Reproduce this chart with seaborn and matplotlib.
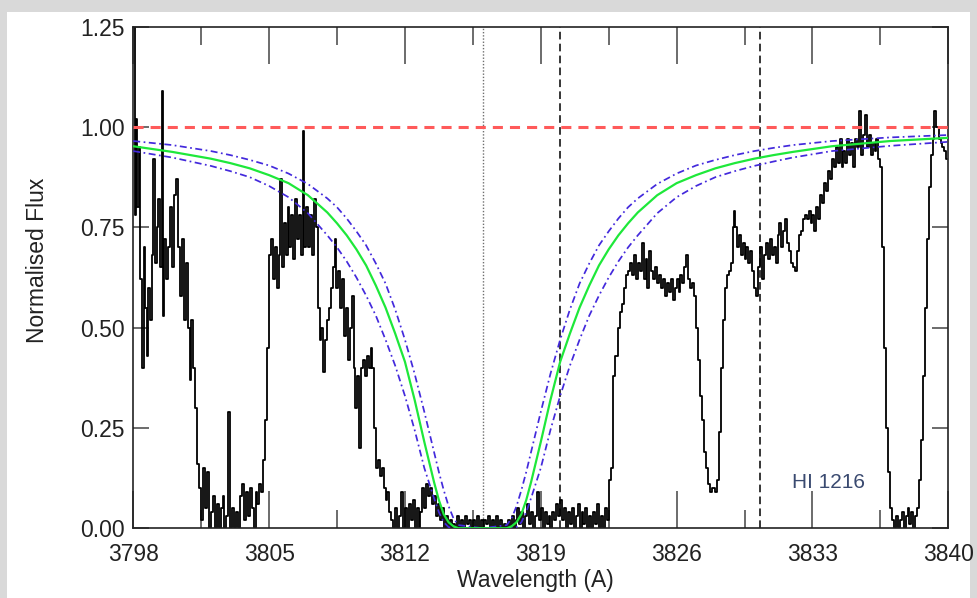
import numpy as np
import pandas as pd
import matplotlib
matplotlib.use('Agg')
import matplotlib.pyplot as plt
from matplotlib.patches import Rectangle
import seaborn as sns

spec_lam = [
    3798.05, 3798.12, 3798.18, 3798.25, 3798.32, 3798.40, 3798.50, 3798.58, 3798.66, 3798.75,
    3798.82, 3798.90, 3799.00, 3799.08, 3799.15, 3799.25, 3799.35, 3799.43, 3799.50, 3799.56,
    3799.65, 3799.75, 3799.85, 3799.95, 3800.05, 3800.15, 3800.25, 3800.35, 3800.45, 3800.55,
    3800.65, 3800.75, 3800.85, 3800.95, 3801.05, 3801.15, 3801.25, 3801.35, 3801.45, 3801.55,
    3801.65, 3801.75, 3801.85, 3801.95, 3802.05, 3802.15, 3802.25, 3802.35, 3802.45, 3802.55,
    3802.65, 3802.75, 3802.85, 3802.95, 3803.05, 3803.15, 3803.25, 3803.35, 3803.45, 3803.55,
    3803.65, 3803.75, 3803.85, 3803.95, 3804.05, 3804.15, 3804.25, 3804.35, 3804.45, 3804.55,
    3804.65, 3804.75, 3804.85, 3804.95,
    3805.05, 3805.15, 3805.25, 3805.35, 3805.45, 3805.55, 3805.62, 3805.70, 3805.80, 3805.90,
    3806.00, 3806.10, 3806.20, 3806.30, 3806.40, 3806.50, 3806.60, 3806.70, 3806.78, 3806.85,
    3806.95, 3807.05, 3807.15, 3807.25, 3807.35, 3807.45, 3807.55, 3807.65, 3807.75, 3807.85,
    3807.95, 3808.05, 3808.15, 3808.25, 3808.35, 3808.42, 3808.50, 3808.60, 3808.70, 3808.80,
    3808.90, 3809.00, 3809.10, 3809.20, 3809.30, 3809.40, 3809.50, 3809.60, 3809.70, 3809.80,
    3809.90, 3810.00, 3810.10, 3810.20, 3810.28, 3810.35, 3810.45, 3810.55, 3810.65, 3810.75,
    3810.85, 3810.95, 3811.05, 3811.15, 3811.25, 3811.35,
    3811.45, 3811.55, 3811.65, 3811.75, 3811.85, 3811.95, 3812.05, 3812.15, 3812.25, 3812.35,
    3812.45, 3812.55, 3812.65, 3812.75, 3812.85, 3812.95, 3813.05, 3813.15, 3813.25, 3813.35,
    3813.45, 3813.55, 3813.65, 3813.75, 3813.85, 3813.95, 3814.05, 3814.15, 3814.25, 3814.35,
    3814.45, 3814.55, 3814.65, 3814.75, 3814.85, 3814.95, 3815.05, 3815.15, 3815.25, 3815.35,
    3815.45, 3815.55, 3815.65, 3815.75, 3815.85, 3815.95, 3816.05, 3816.15, 3816.25, 3816.35,
    3816.45, 3816.55, 3816.65, 3816.75, 3816.85, 3816.95, 3817.05, 3817.15, 3817.25, 3817.35,
    3817.45, 3817.55, 3817.65, 3817.75, 3817.85, 3817.95, 3818.05, 3818.15, 3818.25, 3818.35,
    3818.45, 3818.55,
    3818.65, 3818.75, 3818.85, 3818.95, 3819.05, 3819.15, 3819.25, 3819.35, 3819.45, 3819.55,
    3819.65, 3819.75, 3819.85, 3819.95, 3820.05, 3820.15, 3820.25, 3820.35, 3820.45, 3820.55,
    3820.65, 3820.75, 3820.85, 3820.95, 3821.05, 3821.15, 3821.25, 3821.35, 3821.45, 3821.55,
    3821.65, 3821.75, 3821.85, 3821.95, 3822.05, 3822.15, 3822.25, 3822.35, 3822.45, 3822.55,
    3822.65, 3822.75, 3822.85, 3822.95, 3823.05, 3823.15, 3823.25, 3823.35, 3823.45, 3823.55,
    3823.65, 3823.75, 3823.85, 3823.95, 3824.05, 3824.15, 3824.25, 3824.35, 3824.45, 3824.55,
    3824.65, 3824.75, 3824.85, 3824.95, 3825.05, 3825.15, 3825.25, 3825.35, 3825.45, 3825.55,
    3825.65, 3825.75, 3825.85, 3825.95, 3826.05, 3826.15, 3826.25, 3826.35, 3826.45, 3826.55,
    3826.65, 3826.75, 3826.85, 3826.95, 3827.05, 3827.15, 3827.25, 3827.35, 3827.45, 3827.55,
    3827.65, 3827.75, 3827.85, 3827.95, 3828.05, 3828.15, 3828.25, 3828.35, 3828.45, 3828.55,
    3828.65, 3828.75, 3828.85, 3828.95, 3829.00, 3829.05, 3829.15, 3829.25, 3829.35, 3829.45,
    3829.55, 3829.65, 3829.75, 3829.85, 3829.95, 3830.05, 3830.15, 3830.25, 3830.35, 3830.45,
    3830.55, 3830.65, 3830.75, 3830.85, 3830.95, 3831.05, 3831.15, 3831.25, 3831.35, 3831.45,
    3831.55, 3831.65, 3831.75, 3831.85, 3831.95, 3832.05, 3832.15, 3832.25, 3832.35, 3832.45,
    3832.55, 3832.65, 3832.75, 3832.85,
    3832.95, 3833.05, 3833.15, 3833.25, 3833.35, 3833.45, 3833.55, 3833.65, 3833.75, 3833.85,
    3833.95, 3834.05, 3834.15, 3834.25, 3834.35, 3834.45, 3834.55, 3834.65, 3834.75, 3834.85,
    3834.95, 3835.05, 3835.15, 3835.25, 3835.35, 3835.45, 3835.55, 3835.65, 3835.75, 3835.85,
    3835.95, 3836.05, 3836.15, 3836.25, 3836.35, 3836.45, 3836.55, 3836.65, 3836.75, 3836.85,
    3836.95, 3837.05, 3837.15, 3837.25, 3837.35, 3837.45, 3837.55, 3837.65, 3837.75, 3837.85,
    3837.95, 3838.05, 3838.15, 3838.25, 3838.35, 3838.45, 3838.55, 3838.65, 3838.75, 3838.85,
    3838.95, 3839.05, 3839.15, 3839.25, 3839.32, 3839.45, 3839.55, 3839.65, 3839.75, 3839.85,
    3839.95,
]
spec_flux = [
    1.35, 0.78, 1.02, 0.80, 0.95, 0.62, 0.40, 0.70, 0.55, 0.43,
    0.60, 0.52, 0.68, 0.92, 0.66, 0.75, 0.82, 0.65, 1.09, 0.53,
    0.72, 0.62, 0.70, 0.80, 0.65, 0.83, 0.87, 0.70, 0.58, 0.72,
    0.52, 0.66, 0.50, 0.37, 0.52, 0.40, 0.30, 0.16, 0.10, 0.02,
    0.15, 0.05, 0.14, 0.00, 0.04, 0.08, 0.00, 0.06, 0.00, 0.05,
    0.08, 0.00, 0.03, 0.29, 0.00, 0.05, 0.00, 0.04, 0.00, 0.08,
    0.11, 0.02, 0.09, 0.03, 0.10, 0.05, 0.00, 0.09, 0.06, 0.11,
    0.09, 0.17, 0.27, 0.45,
    0.68, 0.72, 0.62, 0.70, 0.60, 0.68, 0.87, 0.65, 0.76, 0.68,
    0.80, 0.70, 0.78, 0.67, 0.82, 0.72, 0.78, 0.68, 0.99, 0.70,
    0.80, 0.70, 0.78, 0.68, 0.82, 0.75, 0.55, 0.47, 0.50, 0.39,
    0.47, 0.52, 0.55, 0.60, 0.65, 0.72, 0.60, 0.64, 0.55, 0.62,
    0.48, 0.55, 0.42, 0.50, 0.58, 0.40, 0.30, 0.38, 0.20, 0.40,
    0.42, 0.38, 0.43, 0.40, 0.45, 0.40, 0.25, 0.15, 0.17, 0.13,
    0.15, 0.10, 0.07, 0.09, 0.04, 0.02,
    0.00, 0.05, 0.00, 0.03, 0.09, 0.00, 0.05, 0.00, 0.06, 0.02,
    0.07, 0.00, 0.05, 0.00, 0.04, 0.10, 0.05, 0.11, 0.08, 0.10,
    0.06, 0.08, 0.03, 0.06, 0.02, 0.05, 0.00, 0.03, 0.00, 0.02,
    0.00, 0.01, 0.00, 0.03, 0.00, 0.02, 0.00, 0.03, 0.01, 0.02,
    0.00, 0.02, 0.00, 0.03, 0.00, 0.02, 0.00, 0.02, 0.01, 0.03,
    0.00, 0.02, 0.00, 0.03, 0.00, 0.02, 0.00, 0.01, 0.00, 0.02,
    0.00, 0.03, 0.00, 0.02, 0.05, 0.01, 0.04, 0.00, 0.03, 0.06,
    0.01, 0.04,
    0.00, 0.03, 0.09, 0.02, 0.05, 0.00, 0.04, 0.01, 0.03, 0.00,
    0.04, 0.02, 0.06, 0.03, 0.07, 0.02, 0.05, 0.00, 0.04, 0.01,
    0.05, 0.00, 0.03, 0.06, 0.00, 0.04, 0.01, 0.05, 0.00, 0.03,
    0.00, 0.04, 0.01, 0.06, 0.00, 0.03, 0.00, 0.05, 0.02, 0.12,
    0.15, 0.38, 0.43, 0.43, 0.50, 0.54, 0.56, 0.60, 0.63, 0.64,
    0.66, 0.63, 0.68, 0.62, 0.66, 0.64, 0.71, 0.62, 0.67, 0.60,
    0.69, 0.64, 0.62, 0.65, 0.61, 0.63, 0.60, 0.62, 0.58, 0.61,
    0.59, 0.62, 0.57, 0.60, 0.62, 0.59, 0.63, 0.61, 0.65, 0.68,
    0.62, 0.60, 0.61, 0.58, 0.50, 0.42, 0.33, 0.27, 0.19, 0.15,
    0.11, 0.09, 0.10, 0.10, 0.09, 0.12, 0.24, 0.40, 0.52, 0.60,
    0.63, 0.64, 0.66, 0.75, 0.79, 0.75, 0.70, 0.73, 0.68, 0.71,
    0.67, 0.70, 0.66, 0.69, 0.64, 0.60, 0.58, 0.65, 0.70, 0.62,
    0.68, 0.71, 0.67, 0.72, 0.68, 0.70, 0.66, 0.73, 0.76, 0.70,
    0.74, 0.77, 0.71, 0.69, 0.66, 0.65, 0.64, 0.69, 0.73, 0.74,
    0.77, 0.78, 0.77, 0.79,
    0.76, 0.78, 0.74, 0.80, 0.77, 0.83, 0.81, 0.86, 0.84, 0.89,
    0.87, 0.92, 0.90, 0.95, 0.91, 0.97, 0.90, 0.94, 0.91, 0.97,
    0.93, 0.96, 0.90, 0.97, 0.95, 1.04, 0.93, 0.98, 1.03, 0.95,
    0.98, 0.93, 0.96, 0.94, 0.97, 0.92, 0.90, 0.70, 0.45, 0.25,
    0.14, 0.05, 0.02, 0.00, 0.03, 0.00, 0.02, 0.04, 0.00, 0.03,
    0.05, 0.01, 0.04, 0.00, 0.03, 0.05, 0.12, 0.22, 0.38, 0.55,
    0.72, 0.85, 0.93, 0.97, 1.04, 1.00, 0.97, 0.96, 0.95, 0.94,
    0.92,
]

# model profiles: best fit and the two error envelopes (narrow = lower N, wide = higher N)
model_lam = [3798.0, 3800.0, 3802.0, 3803.0, 3804.0, 3805.0, 3806.0, 3807.0, 3808.0, 3808.5,
             3809.0, 3809.5, 3810.0, 3810.5, 3811.0, 3811.5, 3812.0, 3812.5, 3813.0, 3813.5,
             3813.75, 3814.0, 3814.25, 3814.5, 3814.75,
             3816.0,
             3817.25, 3817.5, 3817.75, 3818.0, 3818.25, 3818.5, 3819.0, 3819.5, 3820.0, 3820.5,
             3821.0, 3821.5, 3822.0, 3822.5, 3823.0, 3823.5, 3824.0, 3825.0, 3826.0, 3827.0,
             3828.0, 3829.0, 3830.0, 3831.0, 3832.0, 3834.0, 3837.0, 3840.0]
fit_best = [0.952, 0.938, 0.921, 0.910, 0.897, 0.880, 0.860, 0.830, 0.787, 0.760,
            0.730, 0.695, 0.655, 0.605, 0.550, 0.485, 0.415, 0.320, 0.215, 0.115,
            0.070, 0.035, 0.015, 0.005, 0.0,
            0.0,
            0.0, 0.005, 0.015, 0.035, 0.070, 0.115, 0.215, 0.320, 0.415, 0.485,
            0.550, 0.605, 0.655, 0.695, 0.730, 0.760, 0.787, 0.830, 0.860, 0.880,
            0.897, 0.910, 0.921, 0.930, 0.938, 0.952, 0.965, 0.973]
fit_low_n = [0.965, 0.955, 0.940, 0.930, 0.918, 0.904, 0.884, 0.858, 0.822, 0.800,
             0.772, 0.740, 0.705, 0.660, 0.610, 0.545, 0.470, 0.385, 0.290, 0.190,
             0.140, 0.095, 0.055, 0.025, 0.008,
             0.0,
             0.008, 0.025, 0.055, 0.095, 0.140, 0.190, 0.290, 0.385, 0.470, 0.545,
             0.610, 0.660, 0.705, 0.740, 0.772, 0.800, 0.822, 0.858, 0.884, 0.904,
             0.918, 0.930, 0.940, 0.948, 0.955, 0.965, 0.974, 0.980]
fit_high_n = [0.940, 0.924, 0.903, 0.890, 0.875, 0.853, 0.825, 0.785, 0.730, 0.700,
              0.665, 0.625, 0.580, 0.530, 0.470, 0.405, 0.330, 0.245, 0.150, 0.075,
              0.040, 0.015, 0.003, 0.0, 0.0,
              0.0,
              0.0, 0.0, 0.003, 0.015, 0.040, 0.075, 0.150, 0.245, 0.330, 0.405,
              0.470, 0.530, 0.580, 0.625, 0.665, 0.700, 0.730, 0.785, 0.825, 0.853,
              0.875, 0.890, 0.903, 0.914, 0.924, 0.940, 0.953, 0.963]

continuum = 1.0
line_centre = 3816.0
marker_lines = [3820.0, 3830.3]
x_major = [3798, 3805, 3812, 3819, 3826, 3833, 3840]
x_minor = [3801.5, 3808.5, 3815.5, 3822.5, 3829.5, 3836.5]
y_major = [0.00, 0.25, 0.50, 0.75, 1.00, 1.25]
label_text = 'HI 1216'

sns.set_style('white')
plt.rcParams['font.family'] = ['Liberation Sans', 'DejaVu Sans']

fig = plt.figure(figsize=(9.77, 5.98), dpi=100)
fig.patch.set_facecolor('#d9d9d9')
# white panel inside the grey frame
fig.patches.append(Rectangle((7 / 977, 0), 963 / 977, 586 / 598, transform=fig.transFigure,
                             facecolor='white', edgecolor='none', zorder=-10))
ax = fig.add_axes([0.1364, 0.1166, 0.8342, 0.8388])
ax.set_zorder(5)
ax.set_facecolor('white')

spec = pd.DataFrame({'lam': spec_lam, 'flux': spec_flux})
sns.lineplot(data=spec, x='lam', y='flux', ax=ax, color='black', lw=1.3,
             drawstyle='steps-mid', estimator=None, sort=False, zorder=2)

models = pd.DataFrame({'lam': model_lam, 'best': fit_best, 'lo': fit_low_n, 'hi': fit_high_n})
for col in ['lo', 'hi']:
    sns.lineplot(data=models, x='lam', y=col, ax=ax, color='#4329dc', lw=1.25,
                 linestyle=(0, (4, 2, 1, 2)), estimator=None, zorder=3)
sns.lineplot(data=models, x='lam', y='best', ax=ax, color='#1ee83a', lw=1.6,
             estimator=None, zorder=4)

ax.axhline(continuum, color='#ff5a5a', lw=2.2, linestyle=(0, (3.3, 2.3)), zorder=5)
ax.axvline(line_centre, color='#6f6f6f', lw=1.0, linestyle=(0, (1, 1.3)), zorder=1)
for xv in marker_lines:
    ax.axvline(xv, color='black', lw=1.1, linestyle=(0, (5, 2.8)), zorder=1)

ax.text(3833.83, 0.114, label_text, ha='center', va='center', fontsize=15, color='#3a4a70')

ax.set_xlim(3798, 3840)
ax.set_ylim(0, 1.25)
ax.set_xticks(x_major)
ax.set_xticks(x_minor, minor=True)
ax.set_yticks(y_major)
ax.set_yticklabels(['%.2f' % v for v in y_major])
ax.tick_params(axis='x', which='major', direction='in', top=True, bottom=True,
               length=26.5, width=1.1, color='#444444', labelsize=16.5, pad=10.5,
               labelcolor='#222222')
ax.tick_params(axis='x', which='minor', direction='in', top=True, bottom=True,
               length=13, width=1.1, color='#444444')
ax.tick_params(axis='y', which='major', direction='in', left=True, right=True,
               length=11.5, width=1.1, color='#444444', labelsize=16.5, pad=6,
               labelcolor='#222222')
for s in ax.spines.values():
    s.set_linewidth(1.2)
    s.set_color('#222222')

ax.set_xlabel('Wavelength (A)', fontsize=16.5, color='#222222', va='center')
ax.xaxis.set_label_coords(0.493, -0.105)
ax.set_ylabel('Normalised Flux', fontsize=16.5, color='#222222', va='center')
ax.yaxis.set_label_coords(-0.117, 0.535)

fig.savefig('out.png', dpi=100, facecolor=fig.get_facecolor())
